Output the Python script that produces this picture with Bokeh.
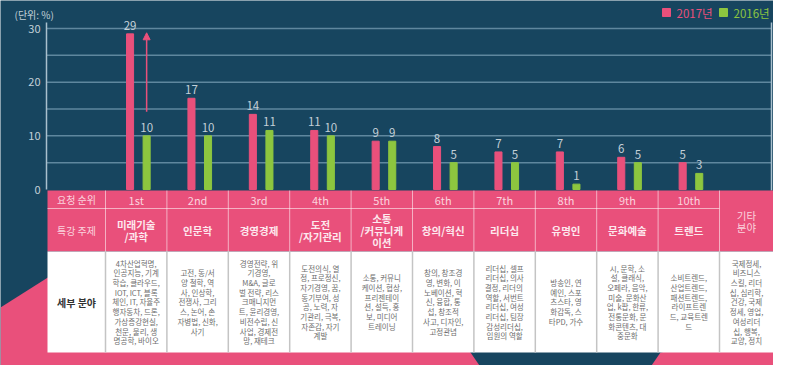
from bokeh.plotting import figure
from bokeh.models import Range1d, Arrow, NormalHead
from bokeh.embed import file_html
from bokeh.resources import INLINE
from bokeh.core.properties import value

# ---------------- data ----------------
ranks = ["1st", "2nd", "3rd", "4th", "5th", "6th", "7th", "8th", "9th", "10th"]
topics = ["미래기술\n/과학", "인문학", "경영경제", "도전\n/자기관리", "소통\n/커뮤니케\n이션",
          "창의/혁신", "리더십", "유명인", "문화예술", "트렌드"]
details = [
    "4차산업혁명,\n인공지능, 기계\n학습, 클라우드,\nIOT, ICT, 블록\n체인, IT, 자율주\n행자동차, 드론,\n가상증강현실,\n천문, 물리, 생\n명공학, 바이오",
    "고전, 동/서\n양 철학, 역\n사, 인상학,\n전쟁사, 그리\n스, 논어, 손\n자병법, 신화,\n사기",
    "경영전략, 위\n기경영,\nM&A, 글로\n벌 전략, 리스\n크매니지먼\n트, 윤리경영,\n비전수립, 신\n사업, 경제전\n망, 재테크",
    "도전의식, 열\n정, 프로정신,\n자기경영, 꿈,\n동기부여, 성\n공, 노력, 자\n기관리, 극복,\n자존감, 자기\n계발",
    "소통, 커뮤니\n케이션, 협상,\n프리젠테이\n션, 설득, 홍\n보, 미디어\n트레이닝",
    "창의, 창조경\n영, 변화, 이\n노베이션, 혁\n신, 융합, 통\n섭, 창조적\n사고, 디자인,\n고정관념",
    "리더십, 셀프\n리더십, 의사\n결정,  리더의\n역할, 서번트\n리더십, 여성\n리더십, 팀장\n감성리더십,\n임원의 역할",
    "방송인, 연\n예인, 스포\n츠스타, 영\n화감독, 스\n타PD, 가수",
    "시, 문학, 소\n설, 클래식,\n오페라, 음악,\n미술, 문화산\n업, k팝, 한류,\n전통문화, 문\n화콘텐츠, 대\n중문화",
    "소비트렌드,\n산업트렌드,\n패션트렌드,\n라이프트렌\n드, 교육트렌\n드",
]
v2017 = [29, 17, 14, 11, 9, 8, 7, 7, 6, 5]
v2016 = [10, 10, 11, 10, 9, 5, 5, 1, 5, 3]
y_tick_values = [0, 10, 20, 30]
grid_values = [5, 10, 15, 20, 25, 30]
other_topic = "기타\n분야"
other_detail = "국제정세,\n비즈니스\n스킬, 리더\n십, 심리학,\n건강, 국제\n정세, 영업,\n여성리더\n십, 행복,\n교양, 정치"
row_labels = ["요청 순위", "특강 주제", "세부 분야"]
legend_labels = ["2017년", "2016년"]
unit_label = "(단위: %)"

# ---------------- style ----------------
NAVY = "#17455f"
PINK = "#e9507b"
GREEN = "#8dc63f"
GRID = "#5f879e"
AXIS = "#a9c0cd"
LABEL = "#c3d0d8"
HEAD_TXT = "#fbd3de"
DETAIL_TXT = "#6e6e6e"
FONT = value("Noto Sans CJK KR")

# ---------------- layout (picture pixels) ----------------
W, H = 773, 365
Y0_PX, Y30_PX = 189, 28
PPU = (Y0_PX - Y30_PX) / 30.0
COL0_PX, COL_W = 135.7, 61.4
x_lo = (0 - COL0_PX) / COL_W
x_hi = (W - COL0_PX) / COL_W
y_hi = Y0_PX / PPU
y_lo = -(H - Y0_PX) / PPU

p = figure(width=W, height=H, x_range=Range1d(x_lo, x_hi), y_range=Range1d(y_lo, y_hi),
           output_backend="svg", toolbar_location=None, x_axis_type=None, y_axis_type=None,
           min_border=0, background_fill_color=NAVY, border_fill_color=NAVY,
           outline_line_color=None)
p.extra_x_ranges = {"px": Range1d(0, W)}
p.extra_y_ranges = {"px": Range1d(H, 0)}

# decorative background shapes
p.patches(xs=[[0, 60, 400, 470, 490, 0], [660, 789, 789, 640]],
          ys=[[307, 269, 269, 352, 381, 381], [352, 330, 381, 381]],
          color=PINK, line_color=None, x_range_name="px", y_range_name="px")

# grid and frame lines
p.segment(x0=[46] * len(grid_values), x1=[771] * len(grid_values), y0=grid_values, y1=grid_values,
          line_color=GRID, line_width=1.5, x_range_name="px")
p.segment(x0=[46, 771], x1=[46, 771], y0=[22, 22], y1=[189, 190],
          line_color=AXIS, line_width=1.5, x_range_name="px", y_range_name="px")

# y tick labels & unit
p.text(x=[40] * len(y_tick_values), y=y_tick_values, text=[str(t) for t in y_tick_values],
       text_align="right", text_baseline="middle", text_font=FONT, text_font_size="11px",
       text_color=LABEL, x_range_name="px")
p.text(x=[14], y=[14], text=[unit_label], text_align="left", text_baseline="middle",
       text_font=FONT, text_font_size="10px", text_color=LABEL, x_range_name="px", y_range_name="px")

# bars
idx = list(range(len(ranks)))
xp = [i - 0.10 for i in idx]
xg = [i + 0.17 for i in idx]
p.vbar(x=xp, top=v2017, bottom=0, width=0.115, color=PINK)
p.vbar(x=xg, top=v2016, bottom=0, width=0.115, color=GREEN)
p.text(x=xp, y=v2017, text=[str(v) for v in v2017], text_align="center", text_baseline="bottom",
       y_offset=-4, text_font=FONT, text_font_size="11.5px", text_color=LABEL)
p.text(x=xg, y=v2016, text=[str(v) for v in v2016], text_align="center", text_baseline="bottom",
       y_offset=-4, text_font=FONT, text_font_size="11.5px", text_color=LABEL)

# growth arrow on the top category
p.add_layout(Arrow(end=NormalHead(size=7, fill_color=PINK, line_color=PINK),
                   x_start=xg[0], y_start=v2016[0] + 4.5, x_end=xg[0], y_end=v2017[0] + 0.2,
                   line_color=PINK, line_width=1.5))

# legend
p.scatter(x=[666, 723], y=[12, 12], marker="square", size=8, color=[PINK, GREEN],
          x_range_name="px", y_range_name="px")
p.text(x=[676, 733], y=[12, 12], text=legend_labels, text_align="left", text_baseline="middle",
       text_font=FONT, text_font_size="11.5px", text_color=[PINK, GREEN],
       x_range_name="px", y_range_name="px")

# ---------------- table ----------------
T_L, T_R, R1, R2, R3, R4 = 47, 773, 190, 208, 251, 352
p.quad(left=[T_L], right=[T_R], top=[R1], bottom=[R3], color=PINK, line_color=None,
       x_range_name="px", y_range_name="px")
p.quad(left=[T_L], right=[T_R], top=[R3], bottom=[R4], color="white", line_color=None,
       x_range_name="px", y_range_name="px")
seps = [i + 0.5 for i in range(-1, len(ranks))]
p.segment(x0=seps, x1=seps, y0=[R1] * len(seps), y1=[R3] * len(seps),
          line_color="white", line_alpha=0.55, line_width=1, y_range_name="px")
p.segment(x0=[T_L], x1=[719], y0=[R2], y1=[R2], line_color="white", line_alpha=0.55,
          line_width=1, x_range_name="px", y_range_name="px")
p.segment(x0=seps, x1=seps, y0=[R3] * len(seps), y1=[R4] * len(seps),
          line_color="#c4c4c4", line_width=1.5, y_range_name="px")

p.text(x=idx, y=[(R1 + R2) / 2] * len(idx), text=ranks, text_align="center", text_baseline="middle",
       text_font=FONT, text_font_size="11px", text_color=HEAD_TXT, y_range_name="px")
p.text(x=idx, y=[(R2 + R3) / 2] * len(idx), text=topics, text_align="center", text_baseline="middle",
       text_font=FONT, text_font_size="10.5px", text_font_style="bold", text_color="#fde8ee",
       text_line_height=0.8, y_range_name="px")
p.text(x=idx, y=[(R3 + R4) / 2] * len(idx), text=details, text_align="center", text_baseline="middle",
       text_font=FONT, text_font_size="7.5px", text_color=DETAIL_TXT, text_line_height=0.88,
       y_range_name="px")

# row headers and "other" column
p.text(x=[76, 76], y=[(R1 + R2) / 2, (R2 + R3) / 2], text=row_labels[:2], text_align="center",
       text_baseline="middle", text_font=FONT, text_font_size="10px", text_color=HEAD_TXT,
       x_range_name="px", y_range_name="px")
p.text(x=[76], y=[(R3 + R4) / 2], text=[row_labels[2]], text_align="center", text_baseline="middle",
       text_font=FONT, text_font_size="10px", text_font_style="bold", text_color="#333333",
       x_range_name="px", y_range_name="px")
p.text(x=[746], y=[(R1 + R3) / 2], text=[other_topic], text_align="center", text_baseline="middle",
       text_font=FONT, text_font_size="10.5px", text_color=HEAD_TXT, text_line_height=0.8,
       x_range_name="px", y_range_name="px")
p.text(x=[746], y=[(R3 + R4) / 2], text=[other_detail], text_align="center", text_baseline="middle",
       text_font=FONT, text_font_size="7.5px", text_color=DETAIL_TXT, text_line_height=0.88,
       x_range_name="px", y_range_name="px")

open("out.html", "w").write(file_html(p, INLINE))
